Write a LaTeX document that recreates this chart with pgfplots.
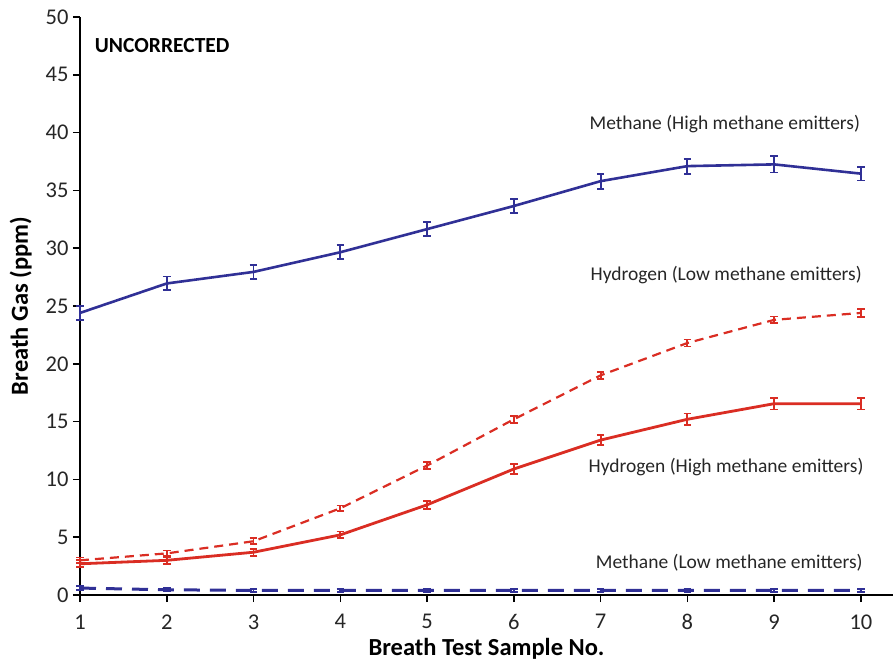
\documentclass[border=0pt]{standalone}
\usepackage{fontspec}
\setmainfont{Carlito}
\usepackage{pgfplots}
\pgfplotsset{compat=1.18}
\definecolor{mblue}{RGB}{48,48,150}
\definecolor{hred}{RGB}{218,45,35}
\begin{document}
\begin{tikzpicture}
\begin{axis}[
  scale only axis, width=813pt, height=578pt,
  xmin=1, xmax=10.37, ymin=0, ymax=50,
  axis lines*=left, axis line style={line width=1.6pt, -},
  xtick={1,...,10}, ytick={0,5,...,50},
  tick align=outside, major tick length=7pt,
  tick style={line width=1.5pt, black},
  /pgf/number format/assume math mode=true,
  ticklabel style={font=\fontsize{22.5}{24}\selectfont, text=black!85},
  yticklabel style={xshift=-1pt},
  xticklabel style={yshift=-9pt},
  xlabel={\textbf{Breath Test Sample No.}},
  ylabel={\textbf{Breath Gas (ppm)}},
  label style={font=\fontsize{24.5}{26}\selectfont},
  xlabel style={at={(axis description cs:0.5,0)}, anchor=base, yshift=-60pt},
  ylabel style={yshift=7pt},
  clip=false,
  error bars/error bar style={line width=1.8pt, solid},
  error bars/error mark options={rotate=90, mark size=3.8pt, line width=1.8pt, solid},
]
% Methane (High methane emitters)
\addplot[mblue, line width=2.6pt, mark=none,
  error bars/.cd, y dir=both, y explicit] coordinates {
  (1,24.4) +- (0,0.6)
  (2,26.95) +- (0,0.6)
  (3,27.95) +- (0,0.6)
  (4,29.65) +- (0,0.6)
  (5,31.65) +- (0,0.6)
  (6,33.65) +- (0,0.6)
  (7,35.8) +- (0,0.65)
  (8,37.1) +- (0,0.65)
  (9,37.25) +- (0,0.7)
  (10,36.45) +- (0,0.6)
};
% Hydrogen (Low methane emitters)
\addplot[hred, line width=2.2pt, dash pattern=on 9pt off 6pt, mark=none,
  error bars/.cd, y dir=both, y explicit] coordinates {
  (1,3.0) +- (0,0.25)
  (2,3.6) +- (0,0.25)
  (3,4.65) +- (0,0.25)
  (4,7.5) +- (0,0.25)
  (5,11.2) +- (0,0.3)
  (6,15.2) +- (0,0.3)
  (7,19.0) +- (0,0.3)
  (8,21.8) +- (0,0.3)
  (9,23.8) +- (0,0.3)
  (10,24.4) +- (0,0.35)
};
% Hydrogen (High methane emitters)
\addplot[hred, line width=2.8pt, mark=none,
  error bars/.cd, y dir=both, y explicit] coordinates {
  (1,2.7) +- (0,0.3)
  (2,3.0) +- (0,0.3)
  (3,3.7) +- (0,0.3)
  (4,5.2) +- (0,0.3)
  (5,7.8) +- (0,0.35)
  (6,10.9) +- (0,0.4)
  (7,13.4) +- (0,0.45)
  (8,15.2) +- (0,0.5)
  (9,16.55) +- (0,0.5)
  (10,16.55) +- (0,0.5)
};
% Methane (Low methane emitters)
\addplot[mblue, line width=3pt, dash pattern=on 16pt off 10pt, mark=none,
  error bars/.cd, y dir=both, y explicit] coordinates {
  (1,0.6) +- (0,0.15)
  (2,0.45) +- (0,0.15)
  (3,0.4) +- (0,0.15)
  (4,0.4) +- (0,0.15)
  (5,0.4) +- (0,0.15)
  (6,0.4) +- (0,0.15)
  (7,0.4) +- (0,0.15)
  (8,0.4) +- (0,0.15)
  (9,0.4) +- (0,0.15)
  (10,0.4) +- (0,0.15)
};
\node[anchor=west, font=\fontsize{21.5}{24}\selectfont\bfseries, inner sep=0pt] at (axis cs:1.17,47.5) {UNCORRECTED};
\node[anchor=east, font=\fontsize{19.5}{22}\selectfont, text=black!85] at (axis cs:10.03,40.7) {Methane (High methane emitters)};
\node[anchor=east, font=\fontsize{19.5}{22}\selectfont, text=black!85] at (axis cs:10.05,27.7) {Hydrogen (Low methane emitters)};
\node[anchor=east, font=\fontsize{19.5}{22}\selectfont, text=black!85] at (axis cs:10.07,11.1) {Hydrogen (High methane emitters)};
\node[anchor=east, font=\fontsize{19.5}{22}\selectfont, text=black!85] at (axis cs:10.06,2.8) {Methane (Low methane emitters)};
\coordinate (ll) at (rel axis cs:0,0);
\end{axis}
\pgfresetboundingbox
\path (ll) ++(-80pt,-66pt) rectangle ++(896pt,661pt);
\end{tikzpicture}
\end{document}
